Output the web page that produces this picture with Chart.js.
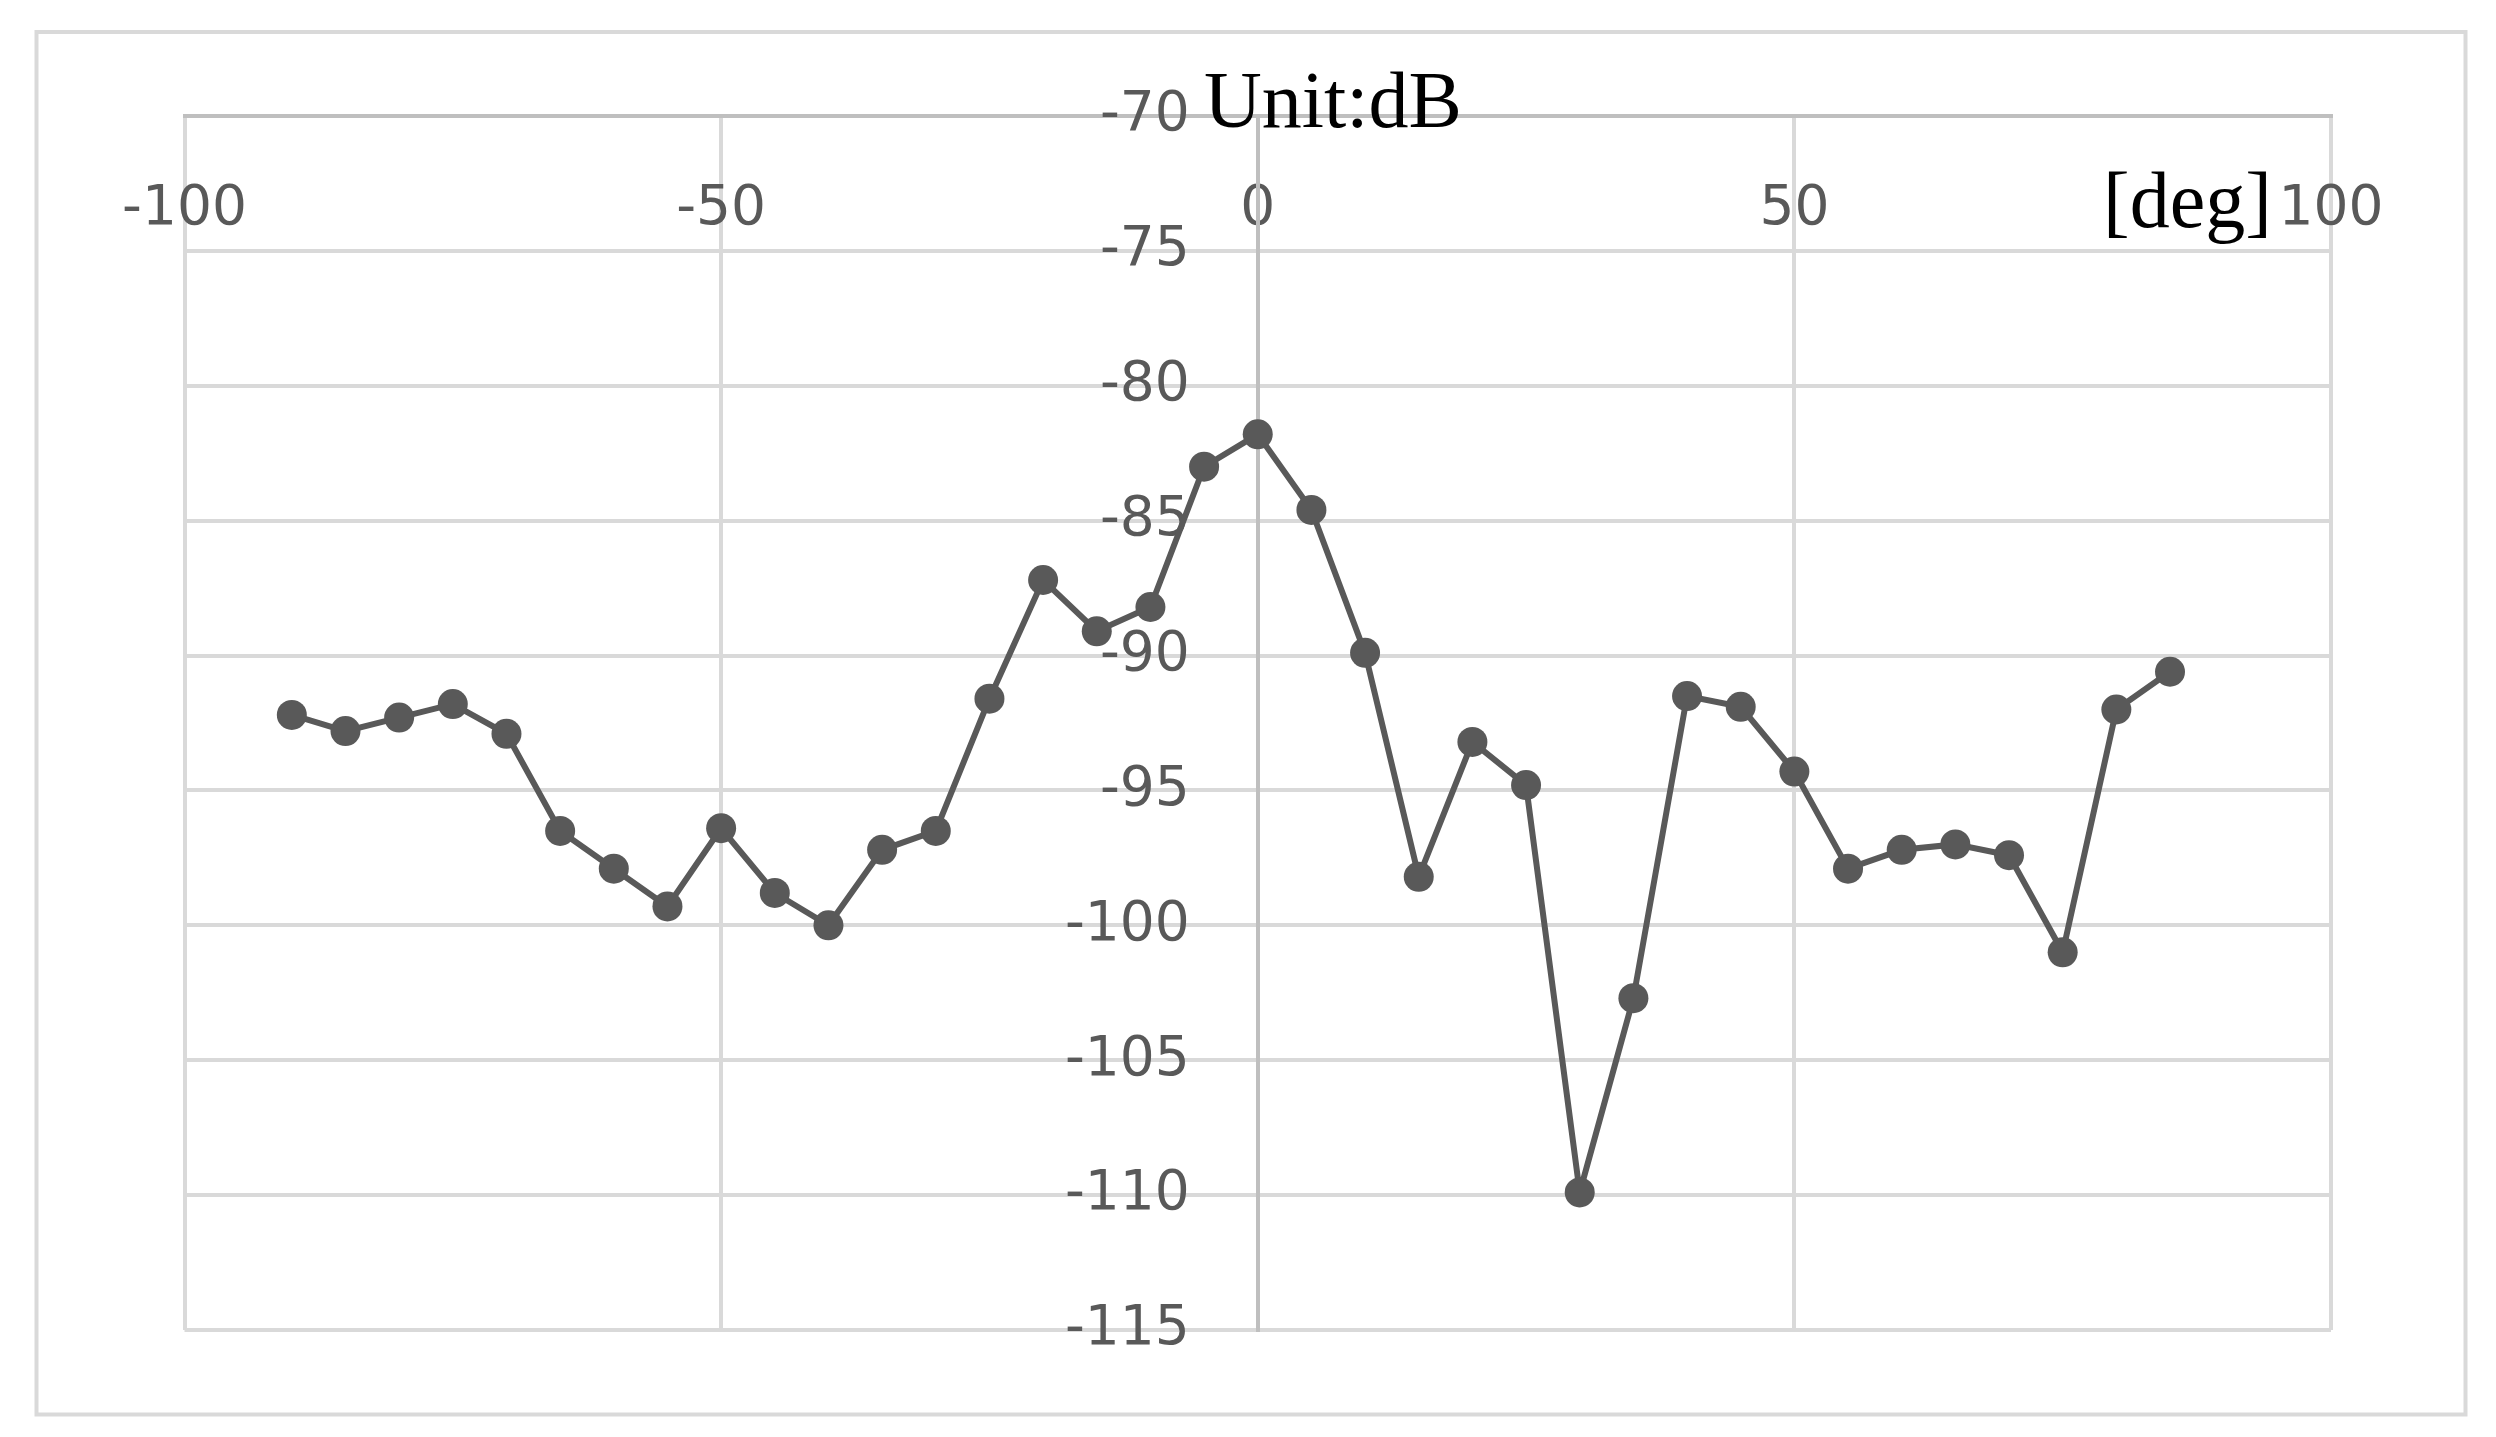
<!DOCTYPE html>
<html>
<head>
<meta charset="utf-8">
<script src="https://cdn.jsdelivr.net/npm/chart.js@4.4.1/dist/chart.umd.min.js"></script>
<style>
  html, body { margin: 0; padding: 0; background: #fff; }
</style>
</head>
<body>
<canvas id="myChart" width="2496" height="1437"></canvas>
<script>
// angle [deg] and measured level [dB]
var angles = [-90, -85, -80, -75, -70, -65, -60, -55, -50, -45, -40, -35, -30, -25, -20, -15, -10, -5,
              0, 5, 10, 15, 20, 25, 30, 35, 40, 45, 50, 55, 60, 65, 70, 75, 80, 85];
var levels = [-92.2, -92.8, -92.3, -91.8, -92.9, -96.5, -97.9, -99.3, -96.4, -98.8, -100.0, -97.2,
              -96.5, -91.6, -87.2, -89.1, -88.2, -83.0, -81.8, -84.6, -89.9, -98.2, -93.2, -94.8,
              -109.9, -102.7, -91.5, -91.9, -94.3, -97.9, -97.2, -97.0, -97.4, -101.0, -92.0, -90.6];
var xTicks = [-100, -50, 0, 50, 100];
var yTicks = [-70, -75, -80, -85, -90, -95, -100, -105, -110, -115];

var points = angles.map(function(a, i) { return {x: a, y: levels[i]}; });

var decor = {
  id: 'decor',
  beforeDraw: function(chart) {
    var ctx = chart.ctx;
    ctx.save();
    ctx.fillStyle = '#fff';
    ctx.fillRect(0, 0, chart.width, chart.height);
    ctx.strokeStyle = '#d9d9d9';
    ctx.lineWidth = 4;
    ctx.strokeRect(36.5, 32, 2429, 1382.5);
    ctx.restore();
  },
  afterDraw: function(chart) {
    var ctx = chart.ctx;
    ctx.save();
    ctx.fillStyle = '#000';
    ctx.font = '80px "Liberation Serif"';
    ctx.textBaseline = 'alphabetic';
    ctx.fillText('Unit:dB', 1204, 127);
    ctx.fillText('[deg]', 2103, 227);
    ctx.restore();
  }
};

var ctx = document.getElementById('myChart').getContext('2d');
var chart = new Chart(ctx, {
    type: 'line',
    data: {
        datasets: [{
            label: 'level',
            data: points,
            borderColor: '#595959',
            backgroundColor: '#595959',
            borderWidth: 6,
            pointRadius: 15,
            pointBorderWidth: 0,
            pointBackgroundColor: '#595959',
            tension: 0,
            clip: false
        }]
    },
    options: {
        responsive: false,
        animation: false,
        devicePixelRatio: 1,
        layout: { padding: { left: 184.5, top: 116, right: 165, bottom: 107 } },
        plugins: { legend: { display: false }, tooltip: { enabled: false } },
        scales: {
            x: {
                type: 'linear',
                min: xTicks[0],
                max: xTicks[xTicks.length - 1],
                position: { y: -70 },
                afterBuildTicks: function(s) { s.ticks = xTicks.map(function(v) { return {value: v}; }); },
                afterFit: function(s) { s.height = 0; },
                grid: {
                    color: function(c) { return c.tick && c.tick.value === 0 ? 'rgba(0,0,0,0)' : '#d9d9d9'; },
                    lineWidth: 4,
                    drawTicks: false
                },
                border: { color: '#bfbfbf', width: 4 },
                ticks: {
                    color: '#595959',
                    font: { family: 'DejaVu Sans', size: 55 },
                    padding: 61,
                    maxRotation: 0,
                    autoSkip: false
                }
            },
            y: {
                type: 'linear',
                min: yTicks[yTicks.length - 1],
                max: yTicks[0],
                // x range is symmetric, so the centre of the plot is x = 0
                position: 'center',
                afterBuildTicks: function(s) { s.ticks = yTicks.map(function(v) { return {value: v}; }); },
                afterFit: function(s) { s.width = 0; },
                grid: {
                    color: function(c) { return c.tick && c.tick.value === -70 ? 'rgba(0,0,0,0)' : '#d9d9d9'; },
                    lineWidth: 4,
                    drawTicks: false
                },
                border: { color: '#bfbfbf', width: 4 },
                ticks: {
                    color: '#595959',
                    font: { family: 'DejaVu Sans', size: 55 },
                    padding: 68,
                    autoSkip: false
                }
            }
        }
    },
    plugins: [decor]
});
</script>
</body>
</html>
